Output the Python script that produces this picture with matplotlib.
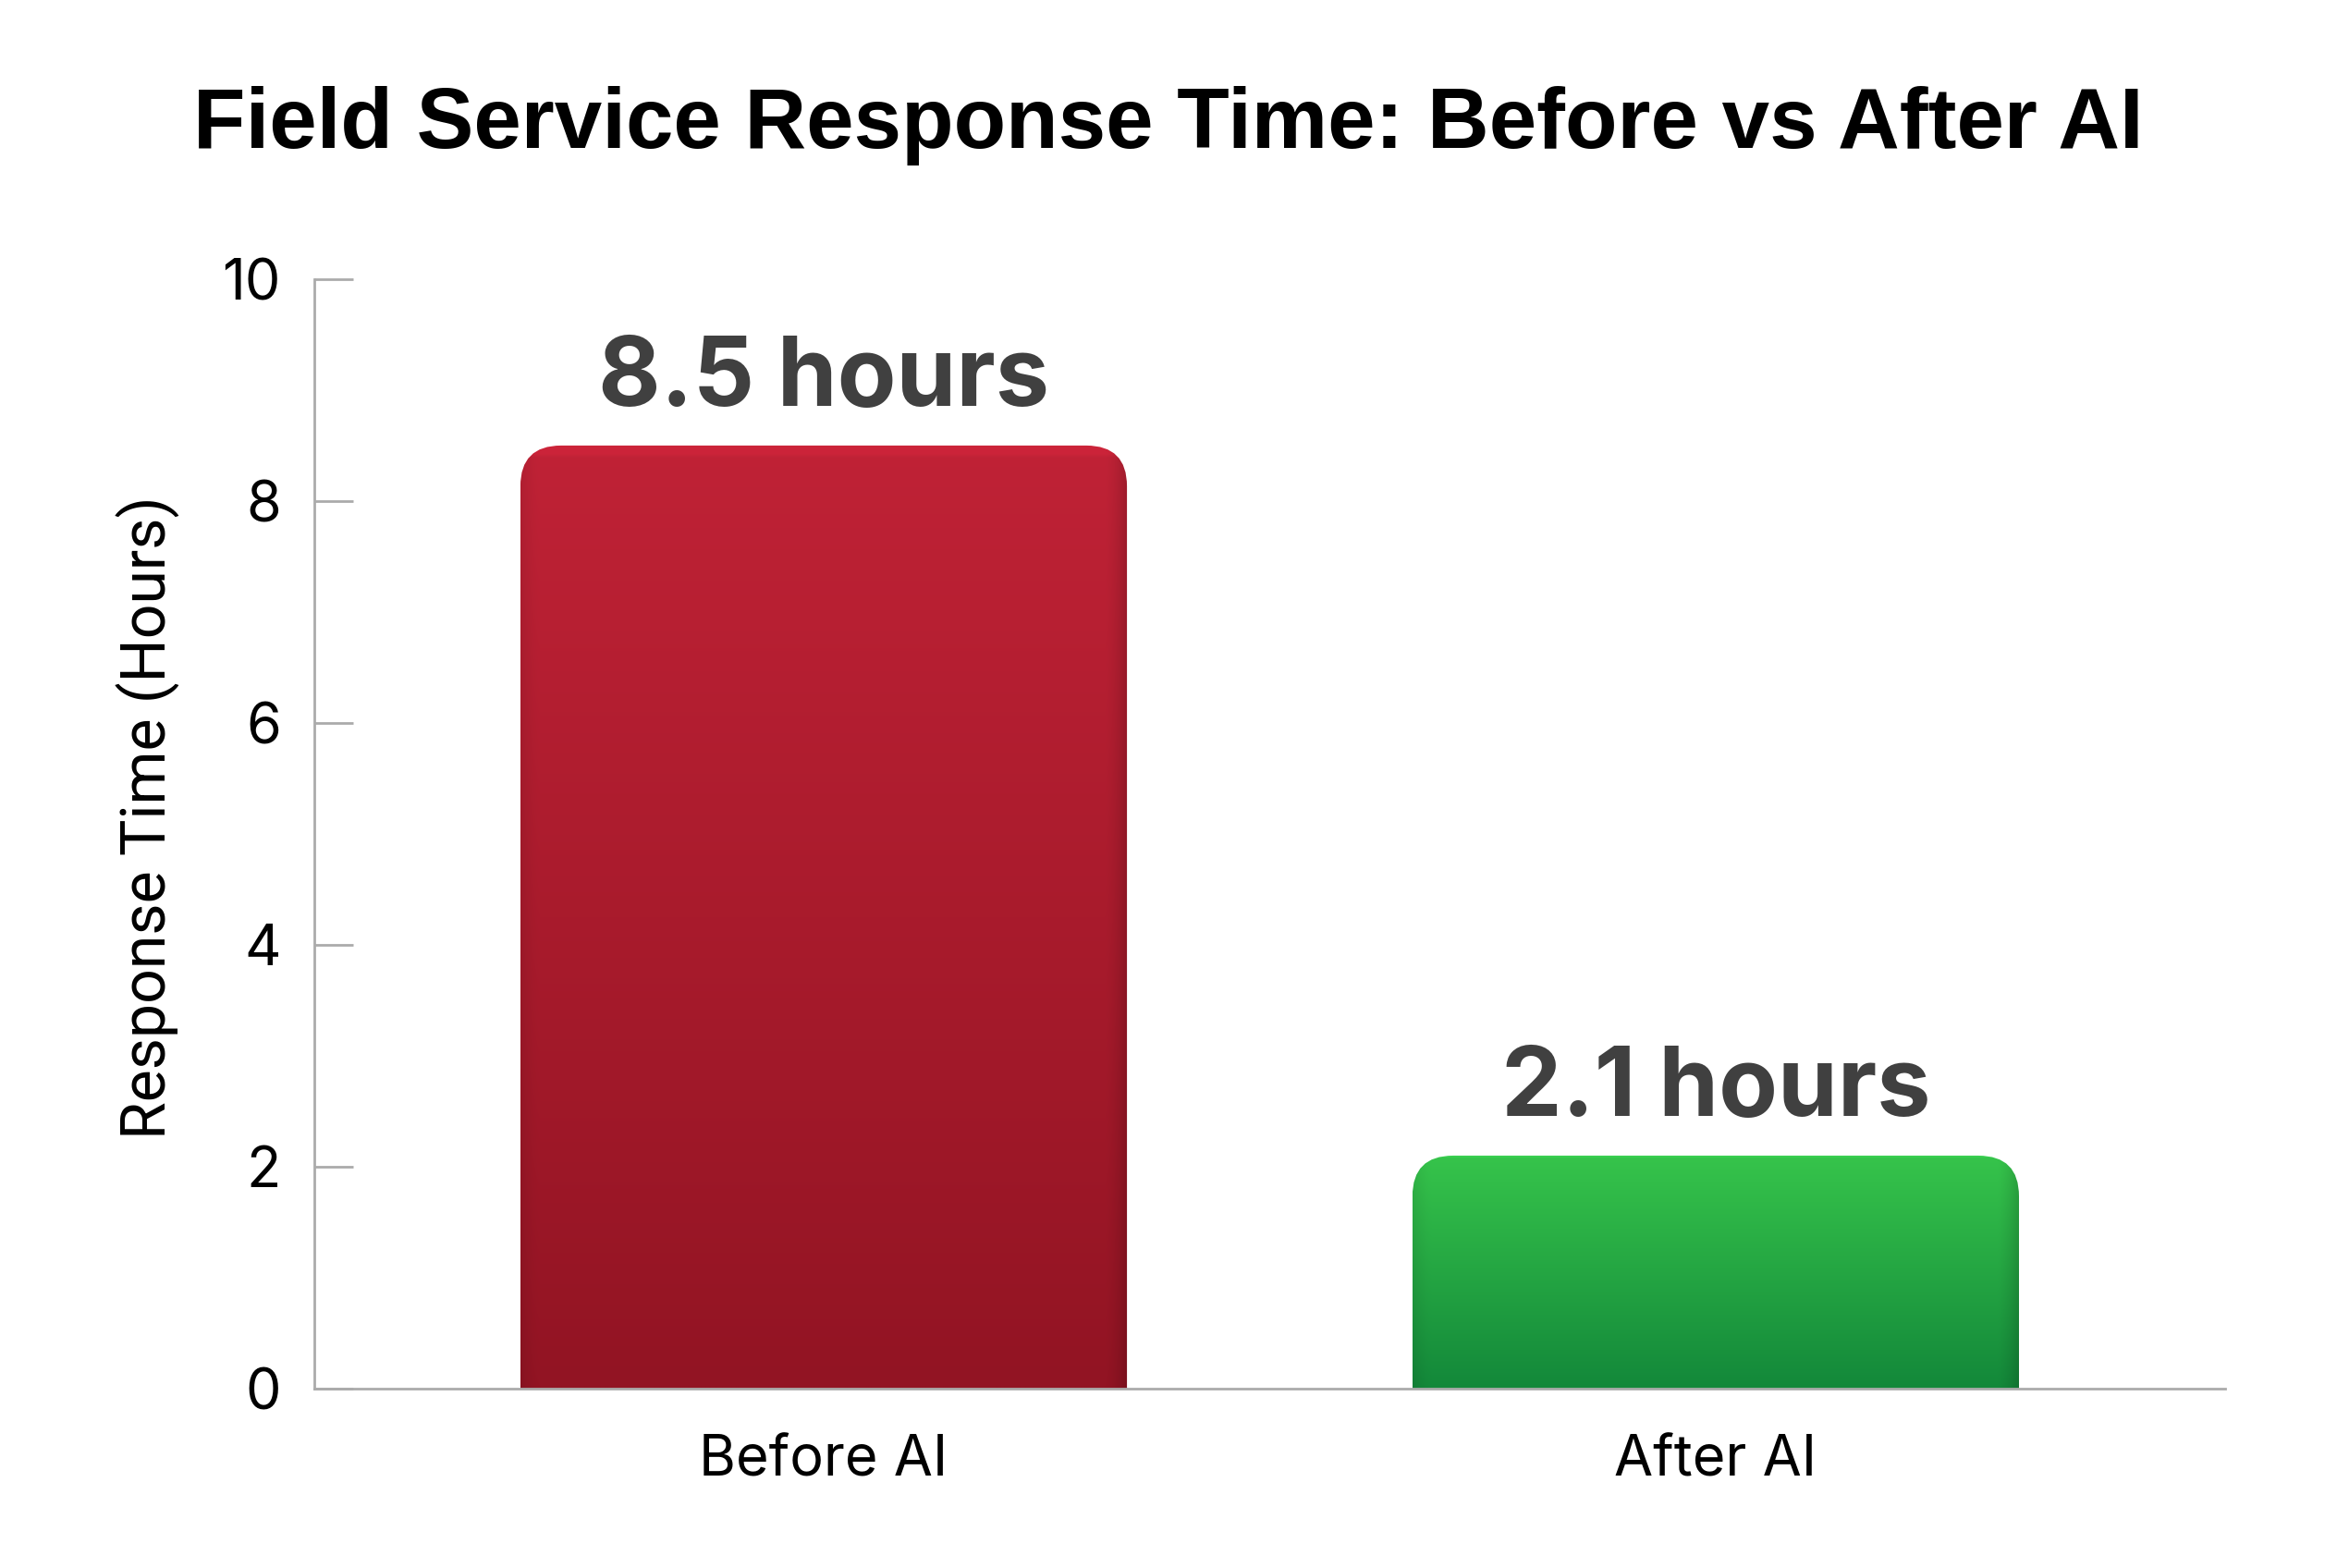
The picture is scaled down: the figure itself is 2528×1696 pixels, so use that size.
import numpy as np
import matplotlib
matplotlib.use("Agg")
import matplotlib.pyplot as plt
from matplotlib.patches import FancyBboxPatch
from matplotlib.colors import to_rgb

categories = ["Before AI", "After AI"]
values = [8.5, 2.1]
value_labels = ["8.5 hours", "2.1 hours"]
y_ticks = [0, 2, 4, 6, 8, 10]

# top / bottom colours of each bar's vertical gradient
TOP_COLORS = ["#C02236", "#36C44B"]
BOT_COLORS = ["#921423", "#13883A"]
GREY = "#ABABAB"
LABEL = "#404040"

fig = plt.figure(figsize=(12.64, 8.48), dpi=200)
ax = fig.add_axes([0.1345, 0.1144, 0.8176, 0.7076])

x = np.arange(len(categories))
W = 0.68
bars = ax.bar(x, values, width=W, color="none", edgecolor="none")
ax.set_xlim(-0.571, 1.571)
ax.set_ylim(0, 10)


def gradient(top, bot, ny=256, nx=200):
    t = np.linspace(0, 1, ny)[:, None, None]          # 0 bottom -> 1 top
    c = np.array(to_rgb(bot)) * (1 - t) + np.array(to_rgb(top)) * t
    u = np.linspace(0, 1, nx)[None, :, None]
    shade = 1 - 0.16 * np.clip((u - 0.965) / 0.035, 0, 1) ** 1.5 \
              - 0.07 * np.clip((0.03 - u) / 0.03, 0, 1) ** 1.5
    img = c * shade
    img[-3:] = np.clip(img[-3:] * 1.06, 0, 1)         # thin highlight at the top
    return np.clip(img, 0, 1)


# corner radius in pixels -> data units in x and y
px_per_x = ax.transData.transform((1, 0))[0] - ax.transData.transform((0, 0))[0]
px_per_y = ax.transData.transform((0, 1))[1] - ax.transData.transform((0, 0))[1]
R = 44
rx, ry = R / px_per_x, R / px_per_y

for b, top, bot in zip(bars, TOP_COLORS, BOT_COLORS):
    x0, w, h = b.get_x(), b.get_width(), b.get_height()
    clip = FancyBboxPatch((x0, -1), w, h + 1,
                          boxstyle=f"round,pad=0,rounding_size={rx}",
                          mutation_aspect=ry / rx, facecolor="none", edgecolor="none")
    ax.add_patch(clip)
    im = ax.imshow(gradient(top, bot), extent=(x0, x0 + w, 0, h), origin="lower",
                   aspect="auto", interpolation="bilinear", zorder=2)
    im.set_clip_path(clip)

for xi, v, lab in zip(x, values, value_labels):
    ax.annotate(lab, (xi, v), xytext=(0, 8), textcoords="offset points",
                ha="center", va="bottom", fontsize=37.5, fontweight="bold",
                family="Inter", color=LABEL)

ax.set_xticks(x)
ax.set_xticklabels(categories, family="Inter", fontsize=22)
ax.set_yticks(y_ticks)
ax.set_yticklabels([str(t) for t in y_ticks], family="Inter", fontsize=22)
ax.tick_params(axis="x", length=0, pad=18)
ax.tick_params(axis="y", direction="in", length=15, width=1.0, color=GREY, pad=13)

for s in ("top", "right"):
    ax.spines[s].set_visible(False)
for s in ("left", "bottom"):
    ax.spines[s].set_color(GREY)
    ax.spines[s].set_linewidth(1.0)

ax.set_ylabel("Response Time (Hours)", family="Roboto", fontsize=23.8)
ax.yaxis.set_label_coords(-0.070, 0.515)

fig.suptitle("Field Service Response Time: Before vs After AI", x=0.5, y=0.945,
             fontsize=33.3, fontweight="bold", family="Liberation Sans", va="top")

fig.savefig("out.png", dpi=200, facecolor="white")
